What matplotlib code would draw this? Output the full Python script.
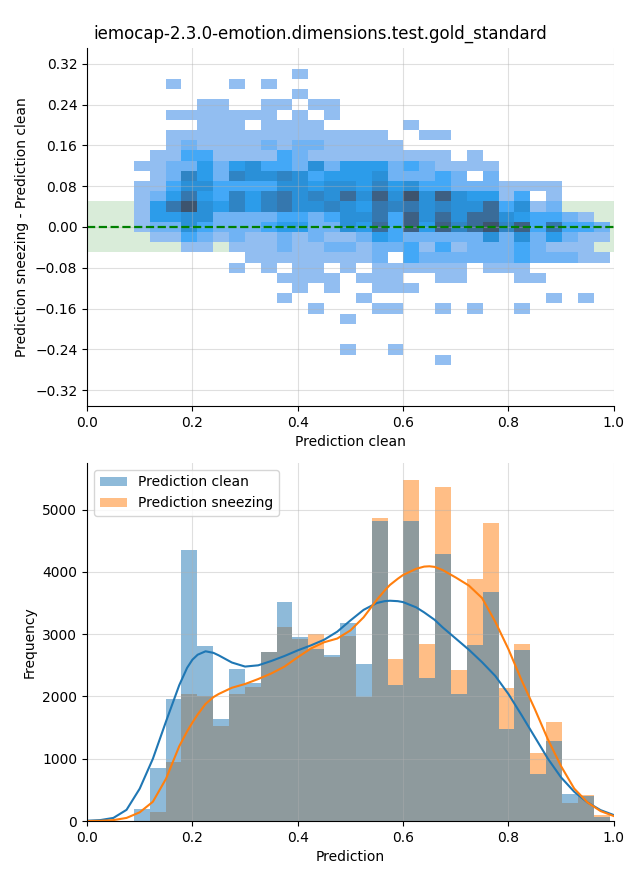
import numpy as np
import matplotlib
matplotlib.use("Agg")
import matplotlib.pyplot as plt
import seaborn as sns
from matplotlib.patches import Patch

TITLE = "iemocap-2.3.0-emotion.dimensions.test.gold_standard"

# bins of "Prediction clean" (shared by both panels) and of the difference
pred_edges = np.linspace(0.089, 0.992, 31)
diff_edges = np.linspace(-0.27, 0.31, 30)

# 2d histogram counts (relative), first row = difference 0.30, last = -0.26
diff_counts = [
    [0,0,0,0,0,0,0,0,0,0, 1,0,0,0,0,0,0,0,0,0, 0,0,0,0,0,0,0,0,0,0],
    [0,0,1,0,0,0,1,0,1,0, 0,0,0,0,0,0,0,0,0,0, 0,0,0,0,0,0,0,0,0,0],
    [0,0,0,0,0,0,0,0,0,0, 1,0,0,0,0,0,0,0,0,0, 0,0,0,0,0,0,0,0,0,0],
    [0,0,0,0,1,1,0,0,1,1, 0,1,1,0,0,0,0,0,0,0, 0,0,0,0,0,0,0,0,0,0],
    [0,0,1,1,1,1,1,1,1,0, 1,0,1,0,0,0,0,0,0,0, 0,0,0,0,0,0,0,0,0,0],
    [0,0,0,0,1,1,1,0,1,1, 1,1,0,0,0,0,0,1,0,0, 0,0,0,0,0,0,0,0,0,0],
    [0,0,1,1,1,1,1,1,1,1, 1,1,1,1,1,1,0,0,1,1, 0,0,0,0,0,0,0,0,0,0],
    [0,0,1,2,1,1,1,1,2,1, 2,2,1,1,1,1,1,0,0,0, 0,0,0,0,0,0,0,0,0,0],
    [0,1,1,3,3,1,1,1,1,3, 2,1,1,1,1,1,1,1,1,1, 0,1,0,0,0,0,0,0,0,0],
    [1,1,2,2,4,2,4,5,3,3, 2,5,2,4,4,4,2,3,2,1, 1,1,1,0,0,0,0,0,0,0],
    [0,1,2,6,4,2,6,5,5,6, 5,3,4,4,4,5,2,2,2,3, 2,0,2,0,0,0,0,0,0,0],
    [1,1,3,5,5,3,3,3,3,5, 5,4,5,5,4,6,4,5,3,3, 2,2,2,1,1,1,1,0,0,0],
    [1,2,4,7,4,3,6,4,6,7, 5,6,5,8,5,9,5,10,5,9, 5,4,4,1,3,0,1,0,0,0],
    [1,4,7,10,5,4,6,4,6,7, 5,5,6,5,4,7,6,7,5,6, 5,5,8,3,5,1,2,0,0,0],
    [1,4,4,5,5,2,2,2,2,3, 3,2,3,5,5,7,3,9,5,8, 5,8,8,5,4,3,3,2,1,0],
    [1,2,2,5,3,2,2,2,3,4, 4,2,2,5,4,8,3,9,4,9, 6,8,10,6,9,3,7,3,3,2],
    [0,1,1,3,2,1,2,1,1,2, 1,2,1,1,2,4,3,2,2,2, 2,2,5,2,5,2,4,2,1,1],
    [0,0,0,1,1,0,1,1,1,2, 1,1,2,2,1,2,2,3,1,3, 1,2,2,2,3,2,1,1,1,0],
    [0,0,0,0,0,0,0,1,1,1, 1,1,1,1,1,2,0,3,2,2, 2,2,2,2,3,2,2,2,1,1],
    [0,0,0,0,0,0,1,0,1,0, 1,1,0,1,0,1,1,1,1,1, 1,0,1,1,1,0,0,0,0,0],
    [0,0,0,0,0,0,0,0,0,1, 1,1,1,0,1,1,1,0,0,1, 1,0,0,0,1,1,0,0,0,0],
    [0,0,0,0,0,0,0,0,0,0, 1,0,1,0,0,1,1,1,0,0, 0,0,0,0,0,0,0,0,0,0],
    [0,0,0,0,0,0,0,0,0,1, 0,0,0,0,1,0,0,0,0,0, 0,0,0,0,0,0,1,0,1,0],
    [0,0,0,0,0,0,0,0,0,0, 0,1,0,0,0,1,1,0,0,1, 0,1,0,0,1,0,0,0,0,0],
    [0,0,0,0,0,0,0,0,0,0, 0,0,0,1,0,0,0,0,0,0, 0,0,0,0,0,0,0,0,0,0],
    [0,0,0,0,0,0,0,0,0,0, 0,0,0,0,0,0,0,0,0,0, 0,0,0,0,0,0,0,0,0,0],
    [0,0,0,0,0,0,0,0,0,0, 0,0,0,0,0,0,0,0,0,0, 0,0,0,0,0,0,0,0,0,0],
    [0,0,0,0,0,0,0,0,0,0, 0,0,0,1,0,0,1,0,0,0, 0,0,0,0,0,0,0,0,0,0],
    [0,0,0,0,0,0,0,0,0,0, 0,0,0,0,0,0,0,0,0,1, 0,0,0,0,0,0,0,0,0,0],
]

# histogram counts per bin of pred_edges
clean_counts = [190, 847, 1961, 4357, 2813, 1640, 2443, 2218, 2720, 3521,
                2950, 2765, 2660, 3183, 2524, 4820, 2190, 4810, 2300, 4290,
                2040, 2830, 3670, 1480, 2750, 756, 1290, 434, 400, 70]
sneezing_counts = [0, 150, 949, 2042, 2010, 1533, 2042, 2148, 2710, 3119,
                   2930, 3006, 2640, 2974, 1985, 4870, 2600, 5470, 2850, 5370,
                   2430, 3880, 4790, 2140, 2850, 1090, 1590, 295, 418, 96]

kde_at = [0.0, 0.025, 0.05, 0.075, 0.1, 0.125, 0.15, 0.175, 0.19, 0.2, 0.21,
          0.225, 0.24, 0.25, 0.275, 0.3, 0.325, 0.35, 0.375, 0.4, 0.425, 0.45,
          0.475, 0.5, 0.525, 0.55, 0.565, 0.575, 0.59, 0.6, 0.625, 0.64, 0.65,
          0.66, 0.675, 0.7, 0.725, 0.75, 0.775, 0.8, 0.825, 0.85, 0.875, 0.9,
          0.925, 0.95, 0.975, 1.0]
clean_kde = [5, 15, 50, 180, 520, 1000, 1600, 2180, 2460, 2590, 2670,
             2725, 2700, 2660, 2545, 2480, 2500, 2570, 2650, 2740, 2820, 2910,
             3040, 3220, 3390, 3500, 3530, 3537, 3530, 3515, 3430, 3350, 3290,
             3230, 3110, 2930, 2750, 2550, 2330, 2040, 1700, 1350, 1000, 700,
             470, 300, 175, 96]
sneezing_kde = [0, 3, 15, 50, 140, 310, 680, 1200, 1440, 1580, 1710,
                1880, 1990, 2040, 2140, 2200, 2280, 2370, 2480, 2630, 2770, 2870,
                2930, 3060, 3270, 3550, 3700, 3790, 3890, 3950, 4050, 4085, 4090,
                4080, 4030, 3910, 3780, 3580, 3200, 2760, 2260, 1800, 1310, 880,
                520, 300, 160, 80]


def main():
    fig = plt.figure(figsize=(6.4, 8.8), dpi=100)
    ax1 = fig.add_axes([0.136, 0.5386, 0.823, 0.407])
    ax2 = fig.add_axes([0.136, 0.067, 0.823, 0.407])

    # top: difference vs clean prediction
    grid = np.array(diff_counts)[::-1]
    pred_mid = (pred_edges[:-1] + pred_edges[1:]) / 2
    diff_mid = (diff_edges[:-1] + diff_edges[1:]) / 2
    xx, yy = np.meshgrid(pred_mid, diff_mid)
    keep = grid > 0

    ax1.axhspan(-0.05, 0.05, color="green", alpha=0.15, lw=0)
    sns.histplot(x=xx[keep], y=yy[keep], weights=grid[keep],
                 bins=[pred_edges, diff_edges], ax=ax1)
    ax1.axhline(0, color="green", ls="--", lw=1.6)
    ax1.set_xlim(0, 1)
    ax1.set_ylim(-0.351, 0.351)
    ax1.set_yticks(np.round(np.arange(-0.32, 0.33, 0.08), 2))
    ax1.set_xlabel("Prediction clean")
    ax1.set_ylabel("Prediction sneezing - Prediction clean")

    # bottom: distributions of both predictions
    ax2.hist(pred_mid, bins=pred_edges, weights=sneezing_counts, color="C1", alpha=0.5)
    ax2.hist(pred_mid, bins=pred_edges, weights=clean_counts, color="C0", alpha=0.5)
    ax2.plot(kde_at, clean_kde, color="C0", lw=1.5)
    ax2.plot(kde_at, sneezing_kde, color="C1", lw=1.5)
    ax2.set_xlim(0, 1)
    ax2.set_ylim(0, 5750)
    ax2.set_xlabel("Prediction")
    ax2.set_ylabel("Frequency")
    handles = [Patch(facecolor="C0", alpha=0.5, lw=0, label="Prediction clean"),
               Patch(facecolor="C1", alpha=0.5, lw=0, label="Prediction sneezing")]
    ax2.legend(handles=handles, loc="upper left")

    for ax in (ax1, ax2):
        ax.grid(True, alpha=0.4)
        ax.spines["top"].set_visible(False)
        ax.spines["right"].set_visible(False)

    fig.suptitle(TITLE, fontsize=12, y=0.972)
    fig.savefig("out.png", dpi=100)


if __name__ == "__main__":
    main()
